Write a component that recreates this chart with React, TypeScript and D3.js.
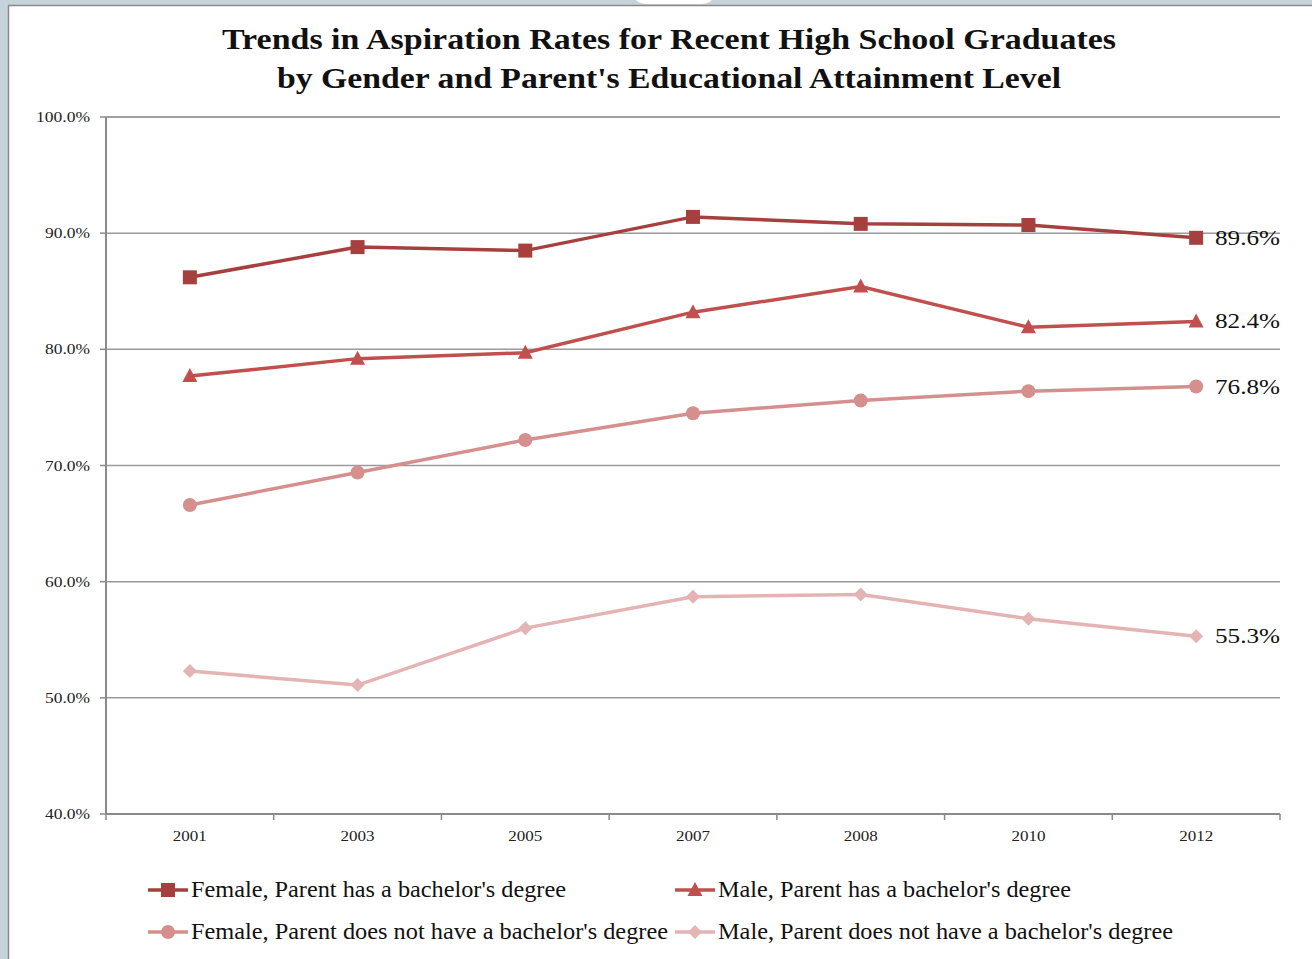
import React from "react";
import * as d3 from "d3";

const years = ["2001", "2003", "2005", "2007", "2008", "2010", "2012"];
const femaleBach = [86.2, 88.8, 88.5, 91.4, 90.8, 90.7, 89.6];
const maleBach = [77.7, 79.2, 79.7, 83.2, 85.4, 81.9, 82.4];
const femaleNoBach = [66.6, 69.4, 72.2, 74.5, 75.6, 76.4, 76.8];
const maleNoBach = [52.3, 51.1, 56.0, 58.7, 58.9, 56.8, 55.3];
const yTicks = [40, 50, 60, 70, 80, 90, 100];
const seriesNames = [
  "Female, Parent has a bachelor's degree",
  "Male, Parent has a bachelor's degree",
  "Female, Parent does not have a bachelor's degree",
  "Male, Parent does not have a bachelor's degree",
];

const W = 1312;
const H = 959;
const left = 106;
const right = 1280;
const top = 117;
const bottom = 814;
const serif = "'Liberation Serif', 'DejaVu Serif', serif";

type S = { name: string; values: number[]; color: string; marker: string };

const series: S[] = [
  { name: seriesNames[0], values: femaleBach, color: "#A6403E", marker: "square" },
  { name: seriesNames[1], values: maleBach, color: "#C0504D", marker: "triangle" },
  { name: seriesNames[2], values: femaleNoBach, color: "#D58F8D", marker: "circle" },
  { name: seriesNames[3], values: maleNoBach, color: "#E3B4B3", marker: "diamond" },
];

function Marker({ kind, x, y, color }: { kind: string; x: number; y: number; color: string }) {
  if (kind === "square") return <rect x={x - 7} y={y - 7} width={14} height={14} fill={color} />;
  if (kind === "triangle")
    return <path d={`M${x},${y - 8}L${x + 7.5},${y + 6}L${x - 7.5},${y + 6}Z`} fill={color} />;
  if (kind === "circle") return <circle cx={x} cy={y} r={7} fill={color} />;
  return <path d={`M${x},${y - 7}L${x + 7},${y}L${x},${y + 7}L${x - 7},${y}Z`} fill={color} />;
}

export default function App() {
  const x = d3.scaleBand<string>().domain(years).range([left, right]);
  const y = d3.scaleLinear().domain([40, 100]).range([bottom, top]);
  const cx = (d: string) => (x(d) as number) + x.bandwidth() / 2;
  const line = d3
    .line<number>()
    .x((_, i) => cx(years[i]))
    .y((v) => y(v));
  const edges = years.map((d) => x(d) as number).concat([right]);

  const legendPos = [
    { lx: 148, ly: 890, w: 375 },
    { lx: 675, ly: 890, w: 353 },
    { lx: 148, ly: 932, w: 477 },
    { lx: 675, ly: 932, w: 455 },
  ];

  return (
    <svg
      width={W}
      height={H}
      style={{ position: "absolute", left: 0, top: 0, display: "block" }}
    >
      <rect x={0} y={0} width={W} height={H} fill="#c6d3da" />
      <rect x={8} y={5} width={W - 8} height={H - 5} fill="#ffffff" />
      <line x1={8.5} y1={5} x2={8.5} y2={H} stroke="#8a8a8a" strokeWidth={1.5} />
      <line x1={8} y1={5.5} x2={W} y2={5.5} stroke="#8a8a8a" strokeWidth={1.5} />
      <path d="M636,0 Q640,4 648,4 L700,4 Q708,4 712,0 Z" fill="#ffffff" />

      <text x={222} y={49} textLength={894} lengthAdjust="spacingAndGlyphs" fontFamily={serif} fontWeight="bold" fontSize={30} fill="#111">
        Trends in Aspiration Rates for Recent High School Graduates
      </text>
      <text x={277} y={88} textLength={784} lengthAdjust="spacingAndGlyphs" fontFamily={serif} fontWeight="bold" fontSize={30} fill="#111">
        by Gender and Parent's Educational Attainment Level
      </text>

      {yTicks.map((t) => {
        const label = t.toFixed(1) + "%";
        return (
          <g key={t}>
            {t > 40 && (
              <line x1={left} x2={right} y1={y(t)} y2={y(t)} stroke="#9a9a9a" strokeWidth={1.5} />
            )}
            <line x1={left - 6} x2={left} y1={y(t)} y2={y(t)} stroke="#8a8a8a" strokeWidth={1.5} />
            <text
              x={90 - (t === 100 ? 54 : 45)}
              y={y(t) + 5}
              textLength={t === 100 ? 54 : 45}
              lengthAdjust="spacingAndGlyphs"
              fontFamily={serif}
              fontSize={15}
              fill="#222"
            >
              {label}
            </text>
          </g>
        );
      })}
      <line x1={left} x2={right} y1={top} y2={top} stroke="#9a9a9a" strokeWidth={1.5} />
      <line x1={left} x2={left} y1={top} y2={bottom} stroke="#8a8a8a" strokeWidth={2} />
      <line x1={left} x2={right} y1={bottom} y2={bottom} stroke="#8a8a8a" strokeWidth={2} />
      {edges.map((e, i) => (
        <line key={i} x1={e} x2={e} y1={bottom} y2={bottom + 6} stroke="#8a8a8a" strokeWidth={1.5} />
      ))}
      {years.map((d) => (
        <text
          key={d}
          x={cx(d) - 17}
          y={841}
          textLength={34}
          lengthAdjust="spacingAndGlyphs"
          fontFamily={serif}
          fontSize={15}
          fill="#222"
        >
          {d}
        </text>
      ))}

      {series.map((s) => (
        <g key={s.name}>
          <path d={line(s.values) || ""} fill="none" stroke={s.color} strokeWidth={3.5} />
          {s.values.map((v, i) => (
            <Marker key={i} kind={s.marker} x={cx(years[i])} y={y(v)} color={s.color} />
          ))}
          <text
            x={1215}
            y={y(s.values[s.values.length - 1]) + 7}
            textLength={65}
            lengthAdjust="spacingAndGlyphs"
            fontFamily={serif}
            fontSize={22}
            fill="#111"
          >
            {s.values[s.values.length - 1].toFixed(1)}%
          </text>
        </g>
      ))}

      {series.map((s, i) => {
        const { lx, ly, w } = legendPos[i];
        return (
          <g key={"lg" + i}>
            <line x1={lx} x2={lx + 40} y1={ly} y2={ly} stroke={s.color} strokeWidth={3.5} />
            <Marker kind={s.marker} x={lx + 20} y={ly} color={s.color} />
            <text
              x={lx + 43}
              y={ly + 7}
              textLength={w}
              lengthAdjust="spacingAndGlyphs"
              fontFamily={serif}
              fontSize={23}
              fill="#111"
            >
              {s.name}
            </text>
          </g>
        );
      })}
    </svg>
  );
}
